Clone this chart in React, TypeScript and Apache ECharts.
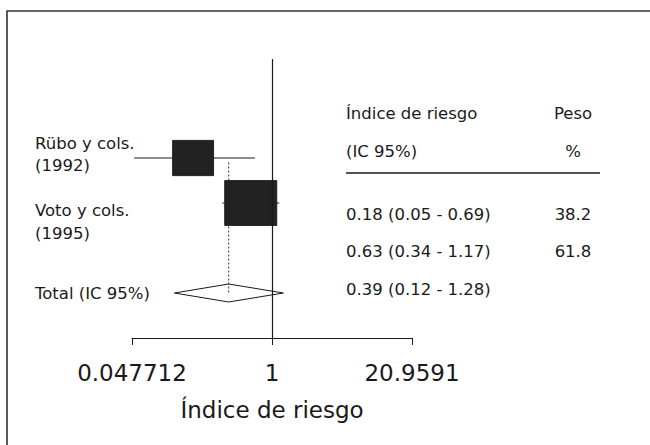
import React, { useEffect, useRef } from "react";
import * as echarts from "echarts";

// ---- data ----
const studyNames = ["Rübo y cols.", "Voto y cols."];
const studyYears = ["(1992)", "(1995)"];
const estimates = [0.18, 0.63];
const lowerCI = [0.05, 0.34];
const upperCI = [0.69, 1.17];
const weights = [38.2, 61.8];
const studyRows = [1, 2];

const totalLabel = "Total (IC 95%)";
const totalEstimate = 0.39;
const totalLower = 0.12;
const totalUpper = 1.28;
const totalRow = 4;

const tickValues = [0.047712, 1, 20.9591];
const tickLabels = ["0.047712", "1", "20.9591"];
const axisTitle = "Índice de riesgo";
const headerLeft = ["Índice de riesgo", "(IC 95%)"];
const headerRight = ["Peso", "%"];

const FONT = "DejaVu Sans";
const INK = "#1a1a1a";

const fmtCI = (e: number, l: number, u: number) =>
  `${e.toFixed(2)} (${l.toFixed(2)} - ${u.toFixed(2)})`;

export default function App() {
  const ref = useRef<HTMLDivElement>(null);
  useEffect(() => {
    document.body.style.margin = "0";
    if (!ref.current) return;
    const chart = echarts.init(ref.current, null, { renderer: "svg" });
    const L = Math.log(tickValues[2]);
    const ln = Math.log;

    const studyData = estimates.map((e, i) => [
      ln(e),
      ln(lowerCI[i]),
      ln(upperCI[i]),
      studyRows[i],
      weights[i],
    ]);

    const txt = (text: string, x: number, y: number, align = "left", size = 16.5) => ({
      type: "text",
      x,
      y,
      silent: true,
      style: {
        text,
        fill: INK,
        font: `${size}px "${FONT}"`,
        textAlign: align,
        textVerticalAlign: "middle",
      },
    });

    const ciTexts = [
      ...estimates.map((e, i) => fmtCI(e, lowerCI[i], upperCI[i])),
      fmtCI(totalEstimate, totalLower, totalUpper),
    ];
    const ciY = [214, 251, 289];
    const wY = [214, 251];

    const graphics: any[] = [
      {
        type: "rect",
        shape: { x: 7, y: 11, width: 700, height: 500 },
        style: { fill: "none", stroke: "#333", lineWidth: 1.6 },
        silent: true,
      },
      txt(studyNames[0], 35, 143.5),
      txt(studyYears[0], 35, 165),
      txt(studyNames[1], 35, 210),
      txt(studyYears[1], 35, 233),
      txt(totalLabel, 35, 293),
      txt(headerLeft[0], 346, 113),
      txt(headerLeft[1], 346, 151),
      txt(headerRight[0], 573, 113, "center"),
      txt(headerRight[1], 573, 151, "center"),
      {
        type: "line",
        shape: { x1: 346, y1: 173, x2: 600, y2: 173 },
        style: { stroke: INK, lineWidth: 1.5 },
        silent: true,
      },
      ...ciTexts.map((t, i) => txt(t, 346, ciY[i])),
      ...weights.map((w, i) => txt(w.toFixed(1), 573, wY[i], "center")),
    ];

    chart.setOption({
      animation: false,
      grid: { left: 132, right: 238, top: 59, bottom: 107, outerBoundsMode: "none" },
      xAxis: {
        type: "value",
        position: "bottom",
        min: -L,
        max: L,
        interval: L,
        axisLine: { show: true, onZero: false, lineStyle: { color: INK, width: 1 } },
        axisTick: { show: true, length: 7, lineStyle: { color: INK, width: 1 } },
        splitLine: { show: false },
        axisLabel: {
          show: true,
          showMinLabel: true,
          showMaxLabel: true,
          margin: 23,
          color: INK,
          fontFamily: FONT,
          fontSize: 23,
          formatter: (v: number) => {
            let best = 0;
            let bd = Infinity;
            tickValues.forEach((t, i) => {
              const d = Math.abs(Math.log(t) - v);
              if (d < bd) {
                bd = d;
                best = i;
              }
            });
            return tickLabels[best];
          },
        },
        name: axisTitle,
        nameLocation: "middle",
        nameGap: 60,
        nameTextStyle: { color: INK, fontFamily: FONT, fontSize: 23 },
      },
      yAxis: {
        type: "value",
        inverse: true,
        min: -1.2,
        max: 5,
        show: false,
        axisLine: { onZero: false },
        splitLine: { show: false },
      },
      series: [
        {
          type: "line",
          data: [],
          silent: true,
          z: 1,
          markLine: {
            silent: true,
            symbol: ["none", "none"],
            label: { show: false },
            lineStyle: { color: INK, type: "solid", width: 1.2 },
            data: [{ xAxis: 0 }],
          },
        },
        {
          type: "custom",
          z: 2,
          clip: false,
          silent: true,
          data: [[ln(totalEstimate), ln(totalLower), ln(totalUpper), totalRow]],
          renderItem: (params: any, api: any) => {
            const e = api.value(0);
            const lo = api.value(1);
            const hi = api.value(2);
            const r = api.value(3);
            const top = api.coord([e, studyRows[0] + 0.1]);
            const c = api.coord([e, r]);
            const pL = api.coord([lo, r]);
            const pR = api.coord([hi, r]);
            const pT = api.coord([e, r - 0.2]);
            const pB = api.coord([e, r + 0.2]);
            return {
              type: "group",
              children: [
                {
                  type: "line",
                  shape: { x1: top[0], y1: top[1], x2: c[0], y2: c[1] },
                  style: { stroke: "#333", lineWidth: 1, lineDash: [2, 2] },
                },
                {
                  type: "polygon",
                  shape: { points: [pL, pT, pR, pB] },
                  style: { fill: "none", stroke: INK, lineWidth: 1 },
                },
              ],
            };
          },
        },
        {
          type: "custom",
          z: 3,
          clip: false,
          silent: true,
          data: studyData,
          renderItem: (params: any, api: any) => {
            const e = api.value(0);
            const lo = api.value(1);
            const hi = api.value(2);
            const r = api.value(3);
            const w = api.value(4);
            const c = api.coord([e, r]);
            const pL = api.coord([lo, r]);
            const pR = api.coord([hi, r]);
            const bw = Math.sqrt(w) * 6.62;
            const bh = Math.sqrt(w) * 5.7;
            return {
              type: "group",
              children: [
                {
                  type: "line",
                  shape: { x1: pL[0], y1: pL[1], x2: pR[0], y2: pR[1] },
                  style: { stroke: INK, lineWidth: 1 },
                },
                {
                  type: "rect",
                  shape: { x: c[0] - bw / 2, y: c[1] - bh / 2, width: bw, height: bh },
                  style: { fill: "#222", stroke: "#222", lineWidth: 1 },
                },
              ],
            };
          },
        },
      ],
      graphic: graphics,
    });
    return () => chart.dispose();
  }, []);
  return (
    <div
      ref={ref}
      style={{ position: "absolute", left: 0, top: 0, width: 650, height: 445 }}
    />
  );
}
